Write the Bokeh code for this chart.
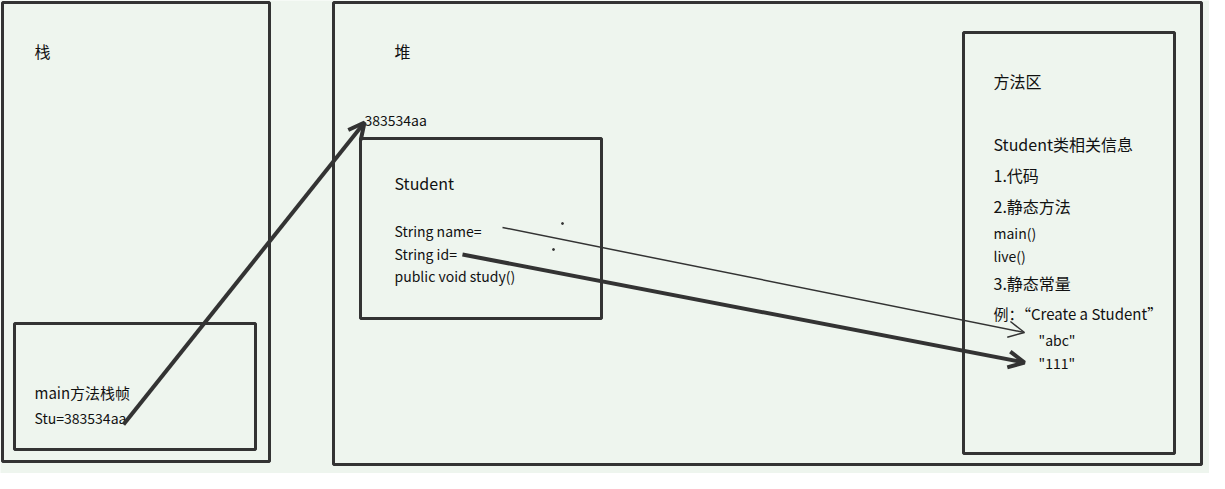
from bokeh.plotting import figure
from bokeh.models import Range1d, Arrow, OpenHead
from bokeh.core.properties import value
from bokeh.embed import file_html
from bokeh.resources import INLINE

# boxes: left, top, right, bottom (pixel coords of the sketch)
box_l = [10, 22, 341, 368, 971]
box_t = [10, 331, 10, 146, 40]
box_r = [277, 263, 1209, 609, 1182]
box_b = [469, 457, 472, 326, 461]

labels = ["栈", "堆", "383534aa", "Student", "String name=", "String id=",
          "public void study()", "main方法栈帧", "Stu=383534aa", "方法区",
          "Student类相关信息", "1.代码", "2.静态方法", "main()", "live()",
          "3.静态常量", "例：“Create a Student”", "\"abc\"", "\"111\""]
lab_x = [42, 402, 372, 402, 402, 402, 402, 42, 42, 1001, 1001, 1001, 1001,
         1001, 1001, 1001, 1001, 1046, 1046]
lab_y = [58, 58, 127, 190, 238, 261, 283, 400, 425, 88, 151, 182, 213, 240,
         263, 290, 321, 347, 370]
lab_size = ["16px", "16px", "14px", "16px", "14px", "14px", "14px", "15px",
            "14px", "16px", "16px", "16px", "16px", "14px", "14px", "16px",
            "15px", "14px", "14px"]

# arrows: start x, start y, end x, end y, width
arr_x0 = [131, 510, 470]
arr_y0 = [432, 235, 262]
arr_x1 = [372, 1032, 1032]
arr_y1 = [130, 340, 370]
arr_w = [4, 1.5, 4]

p = figure(width=1209, height=473, output_backend="svg", toolbar_location=None,
           x_range=Range1d(8, 1217), y_range=Range1d(481, 8), min_border=0)
p.axis.visible = False
p.grid.visible = False
p.outline_line_color = None
p.background_fill_color = "#eef5ee"
p.border_fill_color = "#eef5ee"

p.quad(left=box_l, right=box_r, top=box_t, bottom=box_b, fill_color=None,
       line_color="#333333", line_width=3)

for x, y, t, s in zip(lab_x, lab_y, labels, lab_size):
    p.text(x=[x], y=[y], text=[t], text_font=value("Noto Sans CJK SC"),
           text_font_size=s, text_baseline="middle", text_color="#111111")

for x0, y0, x1, y1, w in zip(arr_x0, arr_y0, arr_x1, arr_y1, arr_w):
    p.add_layout(Arrow(end=OpenHead(size=16, line_width=w, line_color="#333333"),
                       x_start=x0, y_start=y0, x_end=x1, y_end=y1,
                       line_width=w, line_color="#333333"))

p.scatter(x=[570, 561], y=[231, 257], size=2, color="#333333")

open("out.html", "w").write(file_html(p, INLINE))
